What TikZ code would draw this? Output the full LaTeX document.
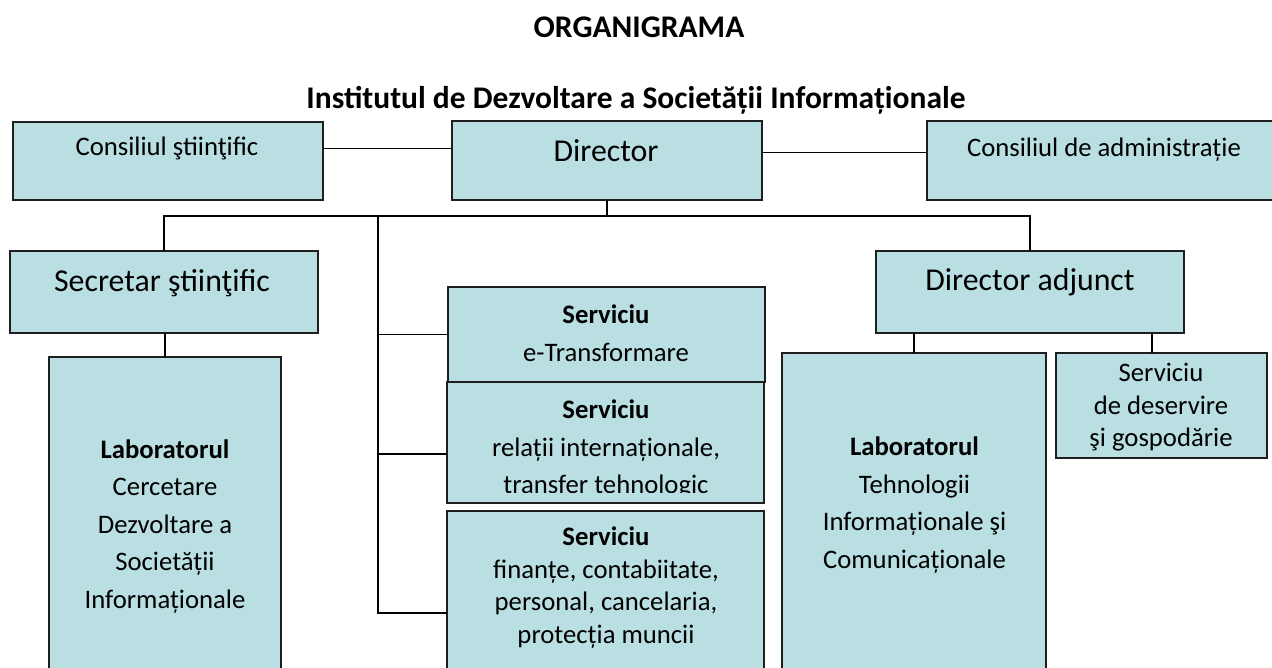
\documentclass[tikz,border=0pt]{standalone}
\usepackage{fontspec}
\setmainfont{Carlito}
\usetikzlibrary{positioning}
\definecolor{boxfill}{RGB}{185,223,226}
\definecolor{boxline}{RGB}{30,30,30}

\begin{document}
\begin{tikzpicture}[x=1pt,y=-1pt,
    box/.style={draw=boxline, fill=boxfill, line width=1.2pt, anchor=north west, inner sep=0pt, outer sep=0pt},
    link/.style={line width=1pt},
    tree/.style={line width=1.8pt},
    small/.style={font=\fontsize{26.7}{32.5}\selectfont, align=center, anchor=base, inner sep=0pt},
    wide/.style={font=\fontsize{26.7}{37.5}\selectfont, align=center, anchor=base, inner sep=0pt},
    big/.style={font=\fontsize{31.8}{38}\selectfont, anchor=base, inner sep=0pt},
    head/.style={font=\fontsize{31.5}{38}\selectfont\bfseries, anchor=base, inner sep=0pt}]
			\useasboundingbox (0,0) rectangle (1272,668);
			\clip (0,0) rectangle (1272,668);

			% titlu
			\node[head] (title) at (639,37.3) {ORGANIGRAMA};
			\node[head] (inst) at (636,108.5) {Institutul de Dezvoltare a Societății Informaționale};

			% conducere
			\node[box, minimum width=310pt, minimum height=78pt] (cs) at (13,122) {};
			\node[box, minimum width=310pt, minimum height=79pt] (dir) at (452,121) {};
			\node[box, minimum width=346pt, minimum height=79pt] (ca) at (927,121) {};
			\node[box, minimum width=308pt, minimum height=82pt] (sec) at (10,251) {};
			\node[box, minimum width=308pt, minimum height=82pt] (da) at (876,251) {};

			% laboratoare si servicii
			\node[box, minimum width=232pt, minimum height=330pt] (lab1) at (49,357) {};
			\node[box, minimum width=317pt, minimum height=95pt] (s1) at (448,287) {};
			\node[box, minimum width=317pt, minimum height=121pt] (s2) at (447,382) {};
			\node[box, minimum width=317pt, minimum height=180pt] (s3) at (447,511) {};
			\node[box, minimum width=264pt, minimum height=340pt] (lab2) at (782,353) {};
			\node[box, minimum width=211pt, minimum height=105pt] (sd) at (1056,353) {};

			% legaturi
			\coordinate (bus) at (607,216);
			\coordinate (spine) at (378,216);
			\draw[link] ([yshift=12pt]cs.east) -- ([yshift=12pt]cs.east -| dir.west);
			\draw[link] ([yshift=7.5pt]dir.east) -- ([yshift=7.5pt]dir.east -| ca.west);
			\draw[tree] (dir.south) -- (bus);
			\draw[tree] (sec.north) |- (da.north |- bus) -- (da.north);
			\draw[tree] (spine) |- ([yshift=-102pt]s3.north west);
			\draw[tree] (s1.west -| spine) -- (s1.west);
			\draw[tree] ([yshift=-11.5pt]s2.west -| spine) -- ([yshift=-11.5pt]s2.west);
			\draw[tree] (sec.south -| lab1.north) -- (lab1.north);
			\draw[tree] (da.south -| lab2.north) -- (lab2.north);
			\draw[tree] ([xshift=-9.5pt]sd.north |- da.south) -- ([xshift=-9.5pt]sd.north);

			% texte (base = ultima linie)
			\node[small] (cstx) at (167,156) {Consiliul ştiinţific};
			\node[big] (dirtx) at (606,161.7) {Director};
			\node[small] (catx) at (1104,156.7) {Consiliul de administrație};
			\node[big] (sectx) at (162,291.7) {Secretar ştiinţific};
			\node[big] (datx) at (1030,290.7) {Director adjunct};
			\node[wide] (s1tx) at (606,361.2) {\textbf{Serviciu}\\e-Transformare};
			\begin{scope}
				\clip (448,383) rectangle (763,492.5);
				\node[wide] (s2tx) at (606,493.5) {\textbf{Serviciu}\\relații internaționale,\\transfer tehnologic};
			\end{scope}
			\node[small] (s3tx) at (606,643.3) {\textbf{Serviciu}\\finanțe, contabiitate,\\personal, cancelaria,\\protecția muncii};
			\node[wide] (lab1tx) at (165,608.3) {\textbf{Laboratorul}\\Cercetare\\Dezvoltare a\\Societății\\Informaționale};
			\node[wide] (lab2tx) at (914.5,568.3) {\textbf{Laboratorul}\\Tehnologii\\Informaționale şi\\Comunicaționale};
			\node[small] (sdtx) at (1161,446.7) {Serviciu\\de deservire\\şi gospodărie};
		\end{tikzpicture}
\end{document}
